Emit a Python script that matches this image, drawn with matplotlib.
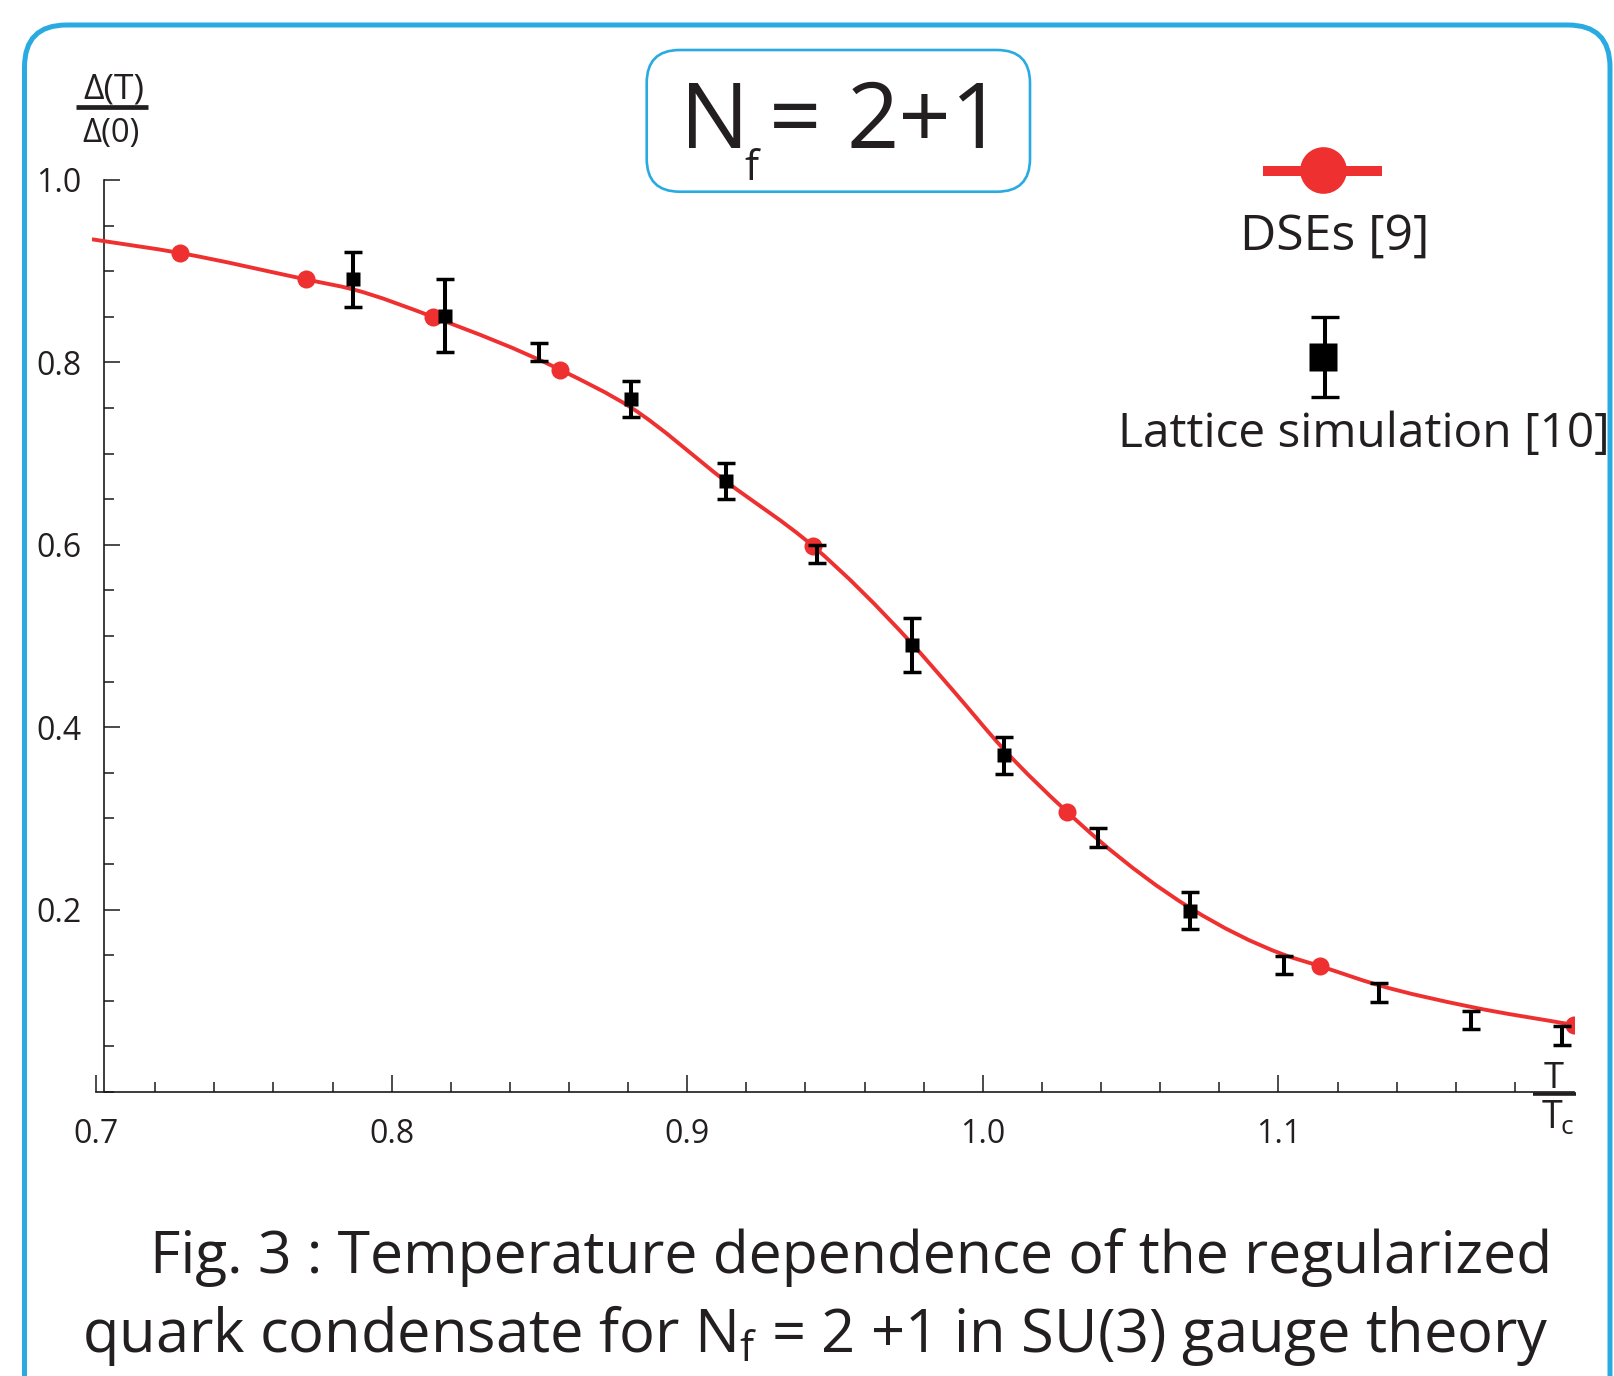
import matplotlib
matplotlib.use('Agg')
import matplotlib.pyplot as plt
import numpy as np
from matplotlib.patches import FancyBboxPatch, PathPatch
from matplotlib.path import Path
from matplotlib.ticker import FixedLocator, MultipleLocator

plt.rcParams['font.family'] = ['Open Sans', 'DejaVu Sans']
plt.rcParams['mathtext.default'] = 'regular'

# ---------------- data ----------------
# DSE curve
curve_x = [0.6986, 0.7283, 0.7710, 0.7870, 0.8139, 0.8570, 0.8812,
           0.9129, 0.9424, 0.9759, 0.9900, 1.0073, 1.0284, 1.0389, 1.0703, 1.1019,
           1.1141, 1.1335, 1.1649, 1.2000]
curve_y = [0.935, 0.920, 0.891, 0.880, 0.850, 0.792, 0.750,
           0.670, 0.599, 0.492, 0.440, 0.375, 0.3075, 0.277, 0.2015, 0.1505,
           0.138, 0.1175, 0.0935, 0.0735]
# DSE marker points
dse_x = [0.7283, 0.7710, 0.8139, 0.8570, 0.9424, 1.0284, 1.1141, 1.2000]
dse_y = [0.920, 0.891, 0.850, 0.792, 0.599, 0.3075, 0.138, 0.0735]
# Lattice simulation points
lat_x = [0.787, 0.818, 0.850, 0.881, 0.913, 0.944, 0.976, 1.007, 1.039, 1.070,
         1.102, 1.134, 1.165, 1.196]
lat_y = [0.891, 0.851, 0.811, 0.760, 0.670, 0.590, 0.490, 0.369, 0.279, 0.199,
         0.139, 0.109, 0.079, 0.062]
lat_err = [0.03, 0.04, 0.01, 0.02, 0.02, 0.01, 0.03, 0.02, 0.01, 0.02,
           0.01, 0.01, 0.01, 0.01]
lat_has_square = [True, True, False, True, True, False, True, True, False, True,
                  False, False, False, False]

x_major = [0.7, 0.8, 0.9, 1.0, 1.1]
x_major_labels = ['0.7', '0.8', '0.9', '1.0', '1.1']
y_major = [0.2, 0.4, 0.6, 0.8, 1.0]
y_major_labels = ['0.2', '0.4', '0.6', '0.8', '1.0']

title_parts = ['N', 'f', '=', '2+1']
legend_labels = ['DSEs [9]', 'Lattice simulation [10]']
caption_1 = 'Fig. 3 : Temperature dependence of the regularized'
caption_2 = 'quark condensate for N$_\\mathregular{f}$ = 2 +1 in SU(3) gauge theory'

# ---------------- style ----------------
BLUE = '#29ABE2'
RED = '#EE3130'
INK = '#231F20'

W, H = 1615, 1376
fig = plt.figure(figsize=(W / 100, H / 100), dpi=100)
fig.patch.set_facecolor('white')

# main axes placed by pixel geometry
X0, X1 = 91.6, 1574.0   # x = 0.6985 .. 1.2
Y0, Y1 = 180.0, 1092.0  # y = 1.0 .. 0.0
ax = fig.add_axes([X0 / W, 1 - Y1 / H, (X1 - X0) / W, (Y1 - Y0) / H])
ax.set_xlim(0.6985, 1.2)
ax.set_ylim(0.0, 1.0)
ax.patch.set_alpha(0)

for s in ['top', 'right']:
    ax.spines[s].set_visible(False)
ax.spines['left'].set_position(('data', 0.7027))
ax.spines['bottom'].set_bounds(0.7, 1.2)
for s in ['left', 'bottom']:
    ax.spines[s].set_linewidth(1.2)
    ax.spines[s].set_color('#1a1a1a')

ax.set_xticks(x_major)
ax.set_xticklabels(x_major_labels)
ax.xaxis.set_minor_locator(FixedLocator([v for v in np.arange(0.72, 1.19, 0.02)
                                         if min(abs(v - m) for m in x_major) > 1e-6]))
ax.set_yticks(y_major)
ax.set_yticklabels(y_major_labels)
ax.yaxis.set_minor_locator(MultipleLocator(0.05))

ax.tick_params(axis='x', which='major', direction='in', length=12, width=1.1,
               pad=19, labelsize=23, labelcolor=INK, color='#1a1a1a')
ax.tick_params(axis='x', which='minor', direction='in', length=7, width=1.1, color='#1a1a1a')
ax.tick_params(axis='y', which='major', direction='in', length=11.5, width=1.1,
               pad=16, labelsize=23, labelcolor=INK, color='#1a1a1a')
ax.tick_params(axis='y', which='minor', direction='in', length=7, width=1.1, color='#1a1a1a')

# DSE curve: smooth Bezier path (cubic Hermite) through the read points
cx = np.asarray(curve_x)
cy = np.asarray(curve_y)
h = np.diff(cx)
d = np.diff(cy) / h
m = np.empty_like(cx)
m[0], m[-1] = d[0], d[-1]
m[1:-1] = (d[:-1] * h[1:] + d[1:] * h[:-1]) / (h[:-1] + h[1:])
verts = [(cx[0], cy[0])]
codes = [Path.MOVETO]
for i in range(len(cx) - 1):
    verts += [(cx[i] + h[i] / 3, cy[i] + m[i] * h[i] / 3),
              (cx[i + 1] - h[i] / 3, cy[i + 1] - m[i + 1] * h[i] / 3),
              (cx[i + 1], cy[i + 1])]
    codes += [Path.CURVE4] * 3
ax.add_patch(PathPatch(Path(verts, codes), fill=False, ec=RED, lw=2.8,
                       joinstyle='round', zorder=3))
ax.plot(dse_x, dse_y, 'o', color=RED, ms=13, mec='none', zorder=4)

# Lattice points
ax.errorbar(lat_x, lat_y, yerr=lat_err, fmt='none', ecolor='black', elinewidth=2.9,
            capsize=6.2, capthick=2.5, zorder=5)
sq_x = [x for x, mk in zip(lat_x, lat_has_square) if mk]
sq_y = [y for y, mk in zip(lat_y, lat_has_square) if mk]
ax.plot(sq_x, sq_y, 's', color='black', ms=10.5, mec='none', zorder=6)

# ---------------- overlay in pixel coordinates ----------------
bg = fig.add_axes([0, 0, 1, 1], zorder=10)
bg.set_xlim(0, W)
bg.set_ylim(H, 0)
bg.axis('off')
bg.patch.set_alpha(0)

renderer = fig.canvas.get_renderer()


def fit_text(x, y, s, width_px, size0, **kw):
    t = bg.text(x, y, s, fontsize=size0, color=kw.pop('color', INK), **kw)
    w = t.get_window_extent(renderer).width
    t.set_fontsize(size0 * width_px / w)
    return t


# outer rounded frame
bg.add_patch(FancyBboxPatch((24.5, 25), 1610 - 24.5, 1700,
                            boxstyle='round,pad=0,rounding_size=42',
                            ec=BLUE, fc='none', lw=3.6))
# title box
bg.add_patch(FancyBboxPatch((646.7, 50), 383.3, 141.7,
                            boxstyle='round,pad=0,rounding_size=33',
                            ec=BLUE, fc='none', lw=1.9))
bg.text(680, 148.3, title_parts[0], fontsize=66, color=INK, ha='left', va='baseline')
bg.text(744, 180, title_parts[1], fontsize=30, color=INK, ha='left', va='baseline')
bg.text(769, 148.3, title_parts[2], fontsize=66, color=INK, ha='left', va='baseline')
bg.text(847, 148.3, title_parts[3], fontsize=66, color=INK, ha='left', va='baseline')

# y-axis label fraction
fit_text(113.5, 98.5, 'Δ(T)', 61, 22, ha='center', va='baseline')
bg.plot([76, 148], [106.7, 106.7], color=INK, lw=3.4, solid_capstyle='butt')
fit_text(111.5, 141.7, 'Δ(0)', 57, 22, ha='center', va='baseline')

# x-axis label fraction T / Tc
bg.text(1554, 1088, 'T', fontsize=26, color=INK, ha='center', va='baseline')
bg.plot([1532.7, 1576], [1094, 1094], color=INK, lw=2.6, solid_capstyle='butt')
bg.text(1552.5, 1128, 'T', fontsize=27, color=INK, ha='center', va='baseline')
bg.text(1561, 1134, 'c', fontsize=19, color=INK, ha='left', va='baseline')

# legend keys
bg.plot([1263, 1382], [170.5, 170.5], color=RED, lw=7.2, solid_capstyle='butt')
bg.plot([1322.7], [169.5], 'o', color=RED, ms=33.6, mec='none')
fit_text(1335, 250, legend_labels[0], 190, 35, ha='center', va='baseline')
bg.errorbar([1325], [356.7], yerr=[40], fmt='none', ecolor='black', elinewidth=2.9,
            capsize=10.3, capthick=2.4)
bg.plot([1323], [357], 's', color='black', ms=20, mec='none')
fit_text(1364, 446.7, legend_labels[1], 492, 35, ha='center', va='baseline')

# caption
fit_text(150, 1273, caption_1, 1405, 45, ha='left', va='baseline')
fit_text(82, 1352, caption_2, 1466, 45, ha='left', va='baseline')

fig.savefig('out.png', dpi=100, facecolor='white')
